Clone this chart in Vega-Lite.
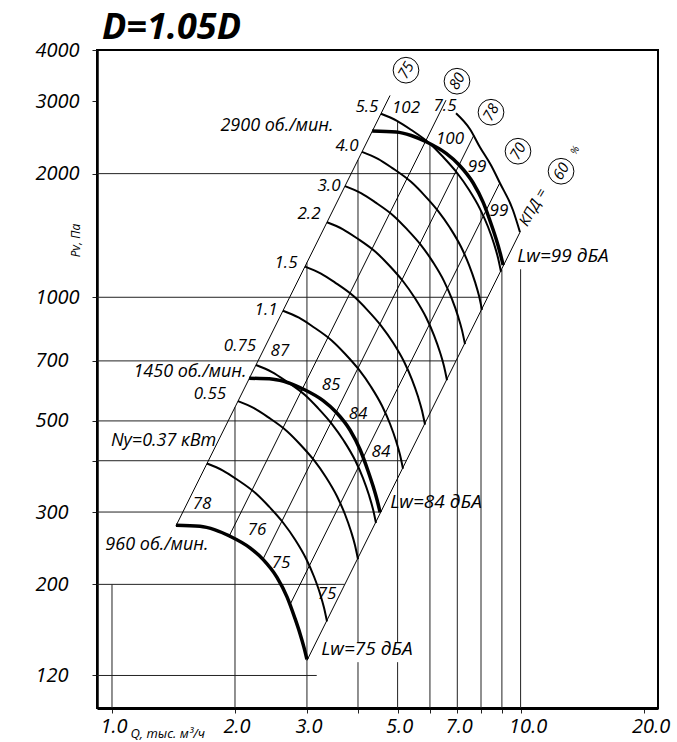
{
"$schema": "https://vega.github.io/schema/vega-lite/v6.json",
"width": 561, "height": 658,
"autosize": {"type": "none"},
"padding": {"left": 97, "top": 50, "right": 19, "bottom": 34},
"background": "white",
"config": {
  "view": {"stroke": "black", "strokeWidth": 2},
  "axis": {"domainColor": "black", "tickColor": "#222", "tickWidth": 1, "tickSize": 5, "grid": false, "labelFont": "Open Sans", "labelFontStyle": "italic", "labelColor": "black", "titleFont": "Open Sans", "titleFontStyle": "italic", "titleFontWeight": "normal", "titleColor": "black"},
  "text": {"font": "Open Sans", "fontStyle": "italic", "color": "black"}
},
"datasets": {
  "hl": [
    {"q": 0.919, "q2": 7.0, "p": 2000},
    {"q": 0.919, "q2": 8.30, "p": 1000},
    {"q": 0.919, "q2": 6.95, "p": 700},
    {"q": 0.919, "q2": 5.87, "p": 500},
    {"q": 0.919, "q2": 5.25, "p": 400},
    {"q": 0.919, "q2": 4.55, "p": 300},
    {"q": 0.919, "q2": 3.71, "p": 200},
    {"q": 0.919, "q2": 3.17, "p": 120}
  ],
  "vl": [
    {"q": 1, "p": 100, "p2": 200},
    {"q": 2, "p": 100, "p2": 540},
    {"q": 3, "p": 100, "p2": 1215},
    {"q": 4, "p": 100, "p2": 129.3},
    {"q": 4, "p": 144.5, "p2": 2160},
    {"q": 5, "p": 100, "p2": 129.3},
    {"q": 5, "p": 144.5, "p2": 2685},
    {"q": 6, "p": 100, "p2": 2365},
    {"q": 7, "p": 100, "p2": 2006},
    {"q": 8, "p": 100, "p2": 1622},
    {"q": 9, "p": 100, "p2": 1170},
    {"q": 10, "p": 100, "p2": 1170}
  ],
  "diag": [
    {"c": "75", "q": 1.434, "p": 277.6}, {"c": "75", "q": 4.792, "p": 3100},
    {"c": "80", "q": 1.935, "p": 262.1}, {"c": "80", "q": 6.567, "p": 3019},
    {"c": "78", "q": 2.34, "p": 230.0}, {"c": "78", "q": 7.684, "p": 2480},
    {"c": "70", "q": 2.725, "p": 178.2}, {"c": "70", "q": 8.886, "p": 1895},
    {"c": "60", "q": 3.0, "p": 130.5}, {"c": "60", "q": 9.966, "p": 1440}
  ],
  "thin": [
    {"c": "5.5", "q": 4.553, "p": 2798}, {"c": "5.5", "q": 4.983, "p": 2690}, {"c": "5.5", "q": 5.392, "p": 2558}, {"c": "5.5", "q": 6.001, "p": 2365}, {"c": "5.5", "q": 6.457, "p": 2198}, {"c": "5.5", "q": 6.987, "p": 2010}, {"c": "5.5", "q": 7.476, "p": 1827}, {"c": "5.5", "q": 7.954, "p": 1642}, {"c": "5.5", "q": 8.321, "p": 1485}, {"c": "5.5", "q": 8.607, "p": 1350}, {"c": "5.5", "q": 8.803, "p": 1248}, {"c": "5.5", "q": 8.954, "p": 1154},
    {"c": "4.0", "q": 4.091, "p": 2260}, {"c": "4.0", "q": 4.477, "p": 2173}, {"c": "4.0", "q": 4.845, "p": 2066}, {"c": "4.0", "q": 5.392, "p": 1910}, {"c": "4.0", "q": 5.802, "p": 1776}, {"c": "4.0", "q": 6.278, "p": 1623}, {"c": "4.0", "q": 6.717, "p": 1476}, {"c": "4.0", "q": 7.147, "p": 1327}, {"c": "4.0", "q": 7.476, "p": 1199}, {"c": "4.0", "q": 7.734, "p": 1090}, {"c": "4.0", "q": 7.910, "p": 1008}, {"c": "4.0", "q": 8.045, "p": 931.8},
    {"c": "3.0", "q": 3.717, "p": 1865}, {"c": "3.0", "q": 4.068, "p": 1793}, {"c": "3.0", "q": 4.402, "p": 1705}, {"c": "3.0", "q": 4.899, "p": 1576}, {"c": "3.0", "q": 5.271, "p": 1465}, {"c": "3.0", "q": 5.704, "p": 1340}, {"c": "3.0", "q": 6.103, "p": 1218}, {"c": "3.0", "q": 6.494, "p": 1095}, {"c": "3.0", "q": 6.793, "p": 989.6}, {"c": "3.0", "q": 7.027, "p": 899.7}, {"c": "3.0", "q": 7.187, "p": 831.8}, {"c": "3.0", "q": 7.310, "p": 768.9},
    {"c": "2.2", "q": 3.359, "p": 1523}, {"c": "2.2", "q": 3.676, "p": 1464}, {"c": "2.2", "q": 3.978, "p": 1392}, {"c": "2.2", "q": 4.427, "p": 1287}, {"c": "2.2", "q": 4.764, "p": 1197}, {"c": "2.2", "q": 5.155, "p": 1094}, {"c": "2.2", "q": 5.516, "p": 994.5}, {"c": "2.2", "q": 5.868, "p": 894.0}, {"c": "2.2", "q": 6.139, "p": 808.1}, {"c": "2.2", "q": 6.350, "p": 734.7}, {"c": "2.2", "q": 6.495, "p": 679.3}, {"c": "2.2", "q": 6.606, "p": 627.9},
    {"c": "1.5", "q": 2.967, "p": 1188}, {"c": "1.5", "q": 3.247, "p": 1142}, {"c": "1.5", "q": 3.514, "p": 1086}, {"c": "1.5", "q": 3.911, "p": 1004}, {"c": "1.5", "q": 4.208, "p": 933.4}, {"c": "1.5", "q": 4.553, "p": 853.3}, {"c": "1.5", "q": 4.872, "p": 775.8}, {"c": "1.5", "q": 5.183, "p": 697.4}, {"c": "1.5", "q": 5.422, "p": 630.4}, {"c": "1.5", "q": 5.609, "p": 573.1}, {"c": "1.5", "q": 5.737, "p": 529.8}, {"c": "1.5", "q": 5.835, "p": 489.8},
    {"c": "1.1", "q": 2.621, "p": 927.4}, {"c": "1.1", "q": 2.868, "p": 891.7}, {"c": "1.1", "q": 3.104, "p": 847.8}, {"c": "1.1", "q": 3.454, "p": 783.7}, {"c": "1.1", "q": 3.717, "p": 728.6}, {"c": "1.1", "q": 4.022, "p": 666.2}, {"c": "1.1", "q": 4.304, "p": 605.6}, {"c": "1.1", "q": 4.579, "p": 544.4}, {"c": "1.1", "q": 4.790, "p": 492.1}, {"c": "1.1", "q": 4.955, "p": 447.4}, {"c": "1.1", "q": 5.068, "p": 413.6}, {"c": "1.1", "q": 5.155, "p": 382.4},
    {"c": "0.75", "q": 2.251, "p": 684}, {"c": "0.75", "q": 2.464, "p": 657.7}, {"c": "0.75", "q": 2.666, "p": 625.3}, {"c": "0.75", "q": 2.967, "p": 578.1}, {"c": "0.75", "q": 3.192, "p": 537.4}, {"c": "0.75", "q": 3.454, "p": 491.3}, {"c": "0.75", "q": 3.696, "p": 446.7}, {"c": "0.75", "q": 3.933, "p": 401.5}, {"c": "0.75", "q": 4.114, "p": 362.9}, {"c": "0.75", "q": 4.255, "p": 330.0}, {"c": "0.75", "q": 4.352, "p": 305.1}, {"c": "0.75", "q": 4.427, "p": 282.0},
    {"c": "0.55", "q": 2.034, "p": 558.5}, {"c": "0.55", "q": 2.226, "p": 537.0}, {"c": "0.55", "q": 2.409, "p": 510.6}, {"c": "0.55", "q": 2.681, "p": 472.0}, {"c": "0.55", "q": 2.885, "p": 438.8}, {"c": "0.55", "q": 3.121, "p": 401.2}, {"c": "0.55", "q": 3.340, "p": 364.7}, {"c": "0.55", "q": 3.553, "p": 327.8}, {"c": "0.55", "q": 3.717, "p": 296.3}, {"c": "0.55", "q": 3.845, "p": 269.4}, {"c": "0.55", "q": 3.933, "p": 249.1}, {"c": "0.55", "q": 4.000, "p": 230.3},
    {"c": "0.37", "q": 1.708, "p": 393.8}, {"c": "0.37", "q": 1.869, "p": 378.6}, {"c": "0.37", "q": 2.023, "p": 360.0}, {"c": "0.37", "q": 2.251, "p": 332.8}, {"c": "0.37", "q": 2.422, "p": 309.4}, {"c": "0.37", "q": 2.621, "p": 282.9}, {"c": "0.37", "q": 2.805, "p": 257.2}, {"c": "0.37", "q": 2.984, "p": 231.2}, {"c": "0.37", "q": 3.121, "p": 209.0}, {"c": "0.37", "q": 3.229, "p": 190.0}, {"c": "0.37", "q": 3.302, "p": 175.6}, {"c": "0.37", "q": 3.359, "p": 162.4},
    {"c": "7.5", "q": 6.949, "p": 2806}, {"c": "7.5", "q": 7.520, "p": 2566}, {"c": "7.5", "q": 7.954, "p": 2319}, {"c": "7.5", "q": 8.464, "p": 2096}, {"c": "7.5", "q": 8.905, "p": 1895}, {"c": "7.5", "q": 9.581, "p": 1629}, {"c": "7.5", "q": 9.966, "p": 1440}
  ],
  "thick": [
    {"c": "960", "q": 1.434, "p": 278.4}, {"c": "960", "q": 1.642, "p": 276.9}, {"c": "960", "q": 1.787, "p": 271.5}, {"c": "960", "q": 1.944, "p": 262.0}, {"c": "960", "q": 2.176, "p": 245.5}, {"c": "960", "q": 2.342, "p": 230.1}, {"c": "960", "q": 2.534, "p": 208.0}, {"c": "960", "q": 2.681, "p": 186.5}, {"c": "960", "q": 2.804, "p": 165.3}, {"c": "960", "q": 2.884, "p": 151.9}, {"c": "960", "q": 2.950, "p": 140.5}, {"c": "960", "q": 3.000, "p": 131.3},
    {"c": "1450", "q": 2.166, "p": 635.1}, {"c": "1450", "q": 2.480, "p": 631.7}, {"c": "1450", "q": 2.699, "p": 619.4}, {"c": "1450", "q": 2.936, "p": 597.7}, {"c": "1450", "q": 3.287, "p": 560.1}, {"c": "1450", "q": 3.537, "p": 524.9}, {"c": "1450", "q": 3.827, "p": 474.5}, {"c": "1450", "q": 4.049, "p": 425.5}, {"c": "1450", "q": 4.235, "p": 377.1}, {"c": "1450", "q": 4.356, "p": 346.5}, {"c": "1450", "q": 4.456, "p": 320.5}, {"c": "1450", "q": 4.531, "p": 299.5},
    {"c": "2900", "q": 4.332, "p": 2540}, {"c": "2900", "q": 4.960, "p": 2527}, {"c": "2900", "q": 5.398, "p": 2477}, {"c": "2900", "q": 5.872, "p": 2391}, {"c": "2900", "q": 6.573, "p": 2240}, {"c": "2900", "q": 7.075, "p": 2100}, {"c": "2900", "q": 7.655, "p": 1898}, {"c": "2900", "q": 8.099, "p": 1702}, {"c": "2900", "q": 8.470, "p": 1508}, {"c": "2900", "q": 8.712, "p": 1386}, {"c": "2900", "q": 8.911, "p": 1282}, {"c": "2900", "q": 9.062, "p": 1198}
  ],
  "head": [
    {"t": "D=1.05D", "q": 0.9452, "p": 4250}
  ],
  "num": [
    {"t": "5.5", "q": 4.208, "p": 2903},
    {"t": "102", "q": 5.242, "p": 2886},
    {"t": "7.5", "q": 6.531, "p": 2918},
    {"t": "4.0", "q": 3.760, "p": 2332},
    {"t": "3.0", "q": 3.397, "p": 1863},
    {"t": "2.2", "q": 3.035, "p": 1593},
    {"t": "1.5", "q": 2.666, "p": 1210},
    {"t": "1.1", "q": 2.382, "p": 929.5},
    {"t": "0.75", "q": 2.057, "p": 760},
    {"t": "87", "q": 2.577, "p": 739},
    {"t": "0.55", "q": 1.737, "p": 580.4},
    {"t": "85", "q": 3.436, "p": 611},
    {"t": "84", "q": 4.000, "p": 519},
    {"t": "84", "q": 4.553, "p": 419},
    {"t": "100", "q": 6.717, "p": 2426},
    {"t": "99", "q": 7.822, "p": 2073},
    {"t": "99", "q": 8.853, "p": 1620},
    {"t": "78", "q": 1.661, "p": 313},
    {"t": "76", "q": 2.264, "p": 270.7},
    {"t": "75", "q": 2.592, "p": 225},
    {"t": "75", "q": 3.359, "p": 189.1}
  ],
  "rpm": [
    {"t": "2900 об./мин.", "q": 2.534, "p": 2609},
    {"t": "1450 об./мин.", "q": 1.552, "p": 656.8},
    {"t": "Ny=0.37 кВт", "q": 1.337, "p": 448},
    {"t": "960 об./мин.", "q": 1.2885, "p": 248.9}
  ],
  "lw": [
    {"t": "Lw=84 дБА", "q": 6.209, "p": 316.8},
    {"t": "Lw=99 дБА", "q": 12.70, "p": 1258.6},
    {"t": "Lw=75 дБА", "q": 4.208, "p": 138.9}
  ],
  "circ": [
    {"t": "75", "q": 5.242, "p": 3572},
    {"t": "80", "q": 6.987, "p": 3358},
    {"t": "78", "q": 8.464, "p": 2822},
    {"t": "70", "q": 9.854, "p": 2268},
    {"t": "60", "q": 12.56, "p": 2027}
  ],
  "kpd": [
    {"t": "КПД =", "q": 10.72, "p": 1657}
  ],
  "pct": [
    {"t": "%", "q": 13.59, "p": 2280}
  ]
},
"encoding": {
  "x": {"field": "q", "type": "quantitative",
    "scale": {"type": "log", "domain": [0.919, 21.69], "nice": false},
    "axis": {"values": [1, 2, 3, 4, 5, 6, 7, 8, 9, 10, 20], "format": ".1f",
      "labelExpr": "(datum.value == 4 || datum.value == 6 || datum.value == 8 || datum.value == 9) ? '' : datum.label",
      "title": "Q, тыс. м³/ч", "titleX": 33, "titleY": 29, "titleAlign": "left", "titleBaseline": "alphabetic", "titleFontSize": 13,
      "labelFontSize": 20, "labelPadding": 3, "labelAlign": "left", "labelOffset": -12, "labelFlush": false, "labelOverlap": false, "labelBaseline": "top",
      "grid": false, "tickSize": 5, "domainWidth": 3}},
  "y": {"field": "p", "type": "quantitative",
    "scale": {"type": "log", "domain": [100, 4000], "nice": false},
    "axis": {"values": [120, 200, 300, 400, 500, 700, 1000, 2000, 3000, 4000], "format": "d",
      "labelExpr": "datum.value == 400 ? '' : datum.label",
      "labelAlign": "left", "labelPadding": 57, "labelFontSize": 20, "labelFlush": false, "labelOverlap": false, "labelBaseline": "middle",
      "title": "Pv, Па", "titleAngle": 270, "titleX": -22, "titleY": 190, "titleAlign": "center", "titleBaseline": "middle", "titleFontSize": 12,
      "grid": false, "tickSize": 5, "domainWidth": 2.5}}
},
"layer": [
  {"data": {"name": "hl"}, "mark": {"type": "rule", "stroke": "#222", "strokeWidth": 1}, "encoding": {"x2": {"field": "q2"}}},
  {"data": {"name": "vl"}, "mark": {"type": "rule", "stroke": "#222", "strokeWidth": 1}, "encoding": {"y2": {"field": "p2"}}},
  {"data": {"name": "diag"}, "mark": {"type": "line", "stroke": "black", "strokeWidth": 1}, "encoding": {"detail": {"field": "c", "type": "nominal"}}},
  {"data": {"name": "thin"}, "mark": {"type": "line", "stroke": "black", "strokeWidth": 2, "interpolate": "monotone"}, "encoding": {"detail": {"field": "c", "type": "nominal"}}},
  {"data": {"name": "thick"}, "mark": {"type": "line", "stroke": "black", "strokeWidth": 3.5, "interpolate": "monotone"}, "encoding": {"detail": {"field": "c", "type": "nominal"}}},
  {"data": {"name": "circ"}, "mark": {"type": "point", "shape": "circle", "size": 660, "filled": true, "fill": "white", "stroke": "black", "strokeWidth": 1, "opacity": 1}},
  {"data": {"name": "circ"}, "mark": {"type": "text", "fontSize": 15, "angle": 300, "align": "center", "baseline": "middle"}, "encoding": {"text": {"field": "t"}}},
  {"data": {"name": "kpd"}, "mark": {"type": "text", "fontSize": 15, "angle": 300, "align": "center", "baseline": "middle"}, "encoding": {"text": {"field": "t"}}},
  {"data": {"name": "pct"}, "mark": {"type": "text", "fontSize": 10, "angle": 300, "align": "center", "baseline": "middle"}, "encoding": {"text": {"field": "t"}}},
  {"data": {"name": "num"}, "mark": {"type": "text", "fontSize": 17, "align": "center", "baseline": "middle"}, "encoding": {"text": {"field": "t"}}},
  {"data": {"name": "rpm"}, "mark": {"type": "text", "fontSize": 18, "align": "center", "baseline": "middle"}, "encoding": {"text": {"field": "t"}}},
  {"data": {"name": "lw"}, "mark": {"type": "text", "fontSize": 19, "align": "center", "baseline": "middle"}, "encoding": {"text": {"field": "t"}}},
  {"data": {"name": "head"}, "mark": {"type": "text", "fontSize": 36, "fontWeight": "bold", "align": "left", "baseline": "alphabetic", "clip": false}, "encoding": {"text": {"field": "t"}}}
]
}
